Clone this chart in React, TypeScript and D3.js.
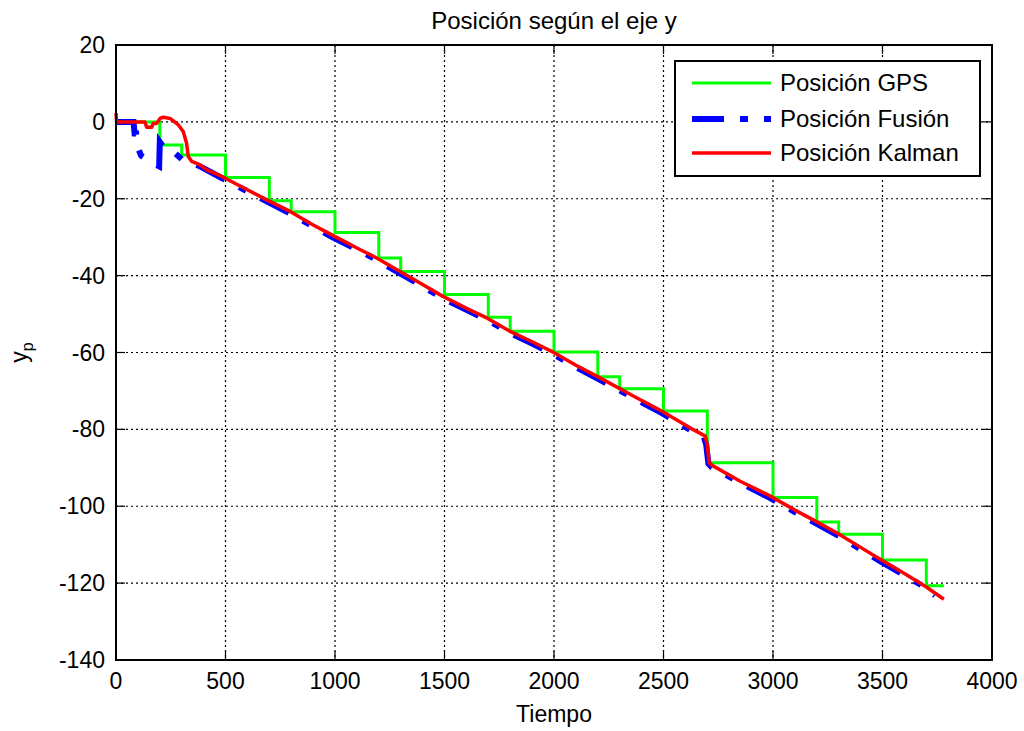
import React from "react";
import * as d3 from "d3";

const xTicks = [0, 500, 1000, 1500, 2000, 2500, 3000, 3500, 4000];
const yTicks = [20, 0, -20, -40, -60, -80, -100, -120, -140];

const gpsTimes = [0, 200, 300, 500, 700, 800, 1000, 1200, 1300, 1500, 1700, 1800, 2000, 2200, 2300, 2500, 2700, 3000, 3200, 3300, 3500, 3700, 3780];
const gpsValues = [0, -6.0, -8.6, -14.5, -20.5, -23.4, -28.8, -35.4, -38.9, -44.9, -50.8, -54.5, -59.9, -66.3, -69.4, -75.2, -88.7, -97.7, -104.1, -107.3, -114.0, -120.7, -120.7];

const fusionTimes = [0, 80, 85, 92, 97, 115, 160, 197, 200, 220, 262, 300, 345, 384, 483, 560, 688, 795, 890, 985, 1100, 1190, 1297, 1388, 1493, 1600, 1693, 1799, 1900, 1989, 2100, 2210, 2362, 2491, 2621, 2685, 2695, 2705, 2720, 2850, 2986, 3100, 3192, 3300, 3400, 3489, 3600, 3700, 3740];
const fusionValues = [0, 0, -3, -3, -6.4, -8.8, -10.5, -11.6, -5.2, -6.8, -7.7, -9.7, -10.6, -11.6, -14.6, -16.9, -20.7, -23.8, -26.9, -29.9, -33.2, -35.9, -39.4, -42.4, -45.9, -48.9, -51.5, -54.9, -57.7, -60.2, -63.8, -67.1, -71.8, -75.7, -80.1, -82.1, -84, -88.9, -89.8, -93.9, -97.8, -101.5, -104.3, -107.7, -111.2, -114.3, -117.9, -121.3, -123.2];

const kalmanTimes = [0, 3, 132, 140, 163, 170, 186, 201, 216, 247, 285, 307, 322, 330, 346, 384, 414, 483, 560, 688, 795, 890, 985, 1100, 1190, 1297, 1388, 1493, 1600, 1693, 1799, 1900, 1989, 2100, 2210, 2362, 2491, 2621, 2689, 2700, 2708, 2720, 2850, 2986, 3100, 3192, 3300, 3400, 3489, 3600, 3700, 3780];
const kalmanValues = [2.3, 0, 0, -1.4, -1.4, -0.4, -0.4, 0.9, 1.2, 0.9, -0.8, -2.5, -5.5, -9.0, -10.3, -11.2, -12.5, -14.2, -16.5, -20.3, -23.3, -26.5, -29.4, -32.8, -35.4, -38.9, -41.9, -45.4, -48.5, -51.0, -54.5, -57.2, -59.7, -63.3, -66.6, -71.3, -75.2, -79.6, -81.7, -84, -88.6, -89.3, -93.5, -97.3, -101, -103.8, -107.2, -110.7, -113.8, -117.5, -121, -124.2];

const legendLabels = ["Posición GPS", "Posición Fusión", "Posición Kalman"];

const W = 1024, H = 731;
const L = 116, R = 992, T = 45, B = 660;
const FONT = "'Liberation Sans', Arial, sans-serif";

export default function App() {
  const x = d3.scaleLinear().domain([0, 4000]).range([L, R]);
  const y = d3.scaleLinear().domain([-140, 20]).range([B, T]);

  const toPts = (ts: number[], vs: number[]) => ts.map((t, i) => [t, vs[i]] as [number, number]);
  const stepLine = d3.line<[number, number]>().x(d => x(d[0])).y(d => y(d[1])).curve(d3.curveStepAfter);
  const line = d3.line<[number, number]>().x(d => x(d[0])).y(d => y(d[1]));

  const gpsPath = stepLine(toPts(gpsTimes, gpsValues)) || "";
  const fusionPath = line(toPts(fusionTimes, fusionValues)) || "";
  const kalmanPath = line(toPts(kalmanTimes, kalmanValues)) || "";

  const tickLen = 9;
  const fs = 23;

  const legX = 675, legY = 61, legW = 305, legH = 115;
  const rowY = [83, 119, 153];
  const styles = [
    { stroke: "#00ff00", width: 3, dash: undefined as string | undefined },
    { stroke: "#0000ff", width: 6, dash: "32,16,8,16" },
    { stroke: "#ff0000", width: 3.5, dash: undefined as string | undefined },
  ];

  return (
    <svg width={W} height={H} style={{ position: "absolute", left: 0, top: 0, background: "#fff" }} fontFamily={FONT}>
      <rect x={0} y={0} width={W} height={H} fill="#fff" />
      {xTicks.slice(1, -1).map(t => (
        <line key={"gx" + t} x1={x(t)} x2={x(t)} y1={T} y2={B} stroke="#000" strokeWidth={1.2} strokeDasharray="2,3" />
      ))}
      {yTicks.slice(1, -1).map(t => (
        <line key={"gy" + t} x1={L} x2={R} y1={y(t)} y2={y(t)} stroke="#000" strokeWidth={1.2} strokeDasharray="2,3" />
      ))}
      {xTicks.map(t => (
        <g key={"tx" + t}>
          <line x1={x(t)} x2={x(t)} y1={B} y2={B - tickLen} stroke="#000" strokeWidth={1.2} />
          <line x1={x(t)} x2={x(t)} y1={T} y2={T + tickLen} stroke="#000" strokeWidth={1.2} />
          <text x={x(t)} y={B + 29} textAnchor="middle" fontSize={fs}>{t}</text>
        </g>
      ))}
      {yTicks.map(t => (
        <g key={"ty" + t}>
          <line x1={L} x2={L + tickLen} y1={y(t)} y2={y(t)} stroke="#000" strokeWidth={1.2} />
          <line x1={R} x2={R - tickLen} y1={y(t)} y2={y(t)} stroke="#000" strokeWidth={1.2} />
          <text x={L - 11} y={y(t) + 8} textAnchor="end" fontSize={fs}>{t}</text>
        </g>
      ))}
      <path d={gpsPath} fill="none" stroke="#00ff00" strokeWidth={3} />
      <path d={fusionPath} fill="none" stroke="#0000ff" strokeWidth={6} strokeDasharray="32,16,8,16" />
      <path d={kalmanPath} fill="none" stroke="#ff0000" strokeWidth={3.5} strokeLinejoin="round" />
      <rect x={L} y={T} width={R - L} height={B - T} fill="none" stroke="#000" strokeWidth={2} />
      <rect x={legX} y={legY} width={legW} height={legH} fill="#fff" stroke="#000" strokeWidth={2} />
      {legendLabels.map((lab, i) => (
        <g key={lab}>
          <line x1={692} x2={771} y1={rowY[i]} y2={rowY[i]} stroke={styles[i].stroke} strokeWidth={styles[i].width} strokeDasharray={styles[i].dash} />
          <text x={780} y={rowY[i] + 8} fontSize={24}>{lab}</text>
        </g>
      ))}
      <text x={(L + R) / 2} y={29} textAnchor="middle" fontSize={24}>Posición según el eje y</text>
      <text x={(L + R) / 2} y={722} textAnchor="middle" fontSize={fs}>Tiempo</text>
      <text transform={`translate(27, ${(T + B) / 2}) rotate(-90)`} textAnchor="middle" fontSize={fs}>
        y<tspan fontSize={16} dy={6}>p</tspan>
      </text>
    </svg>
  );
}
